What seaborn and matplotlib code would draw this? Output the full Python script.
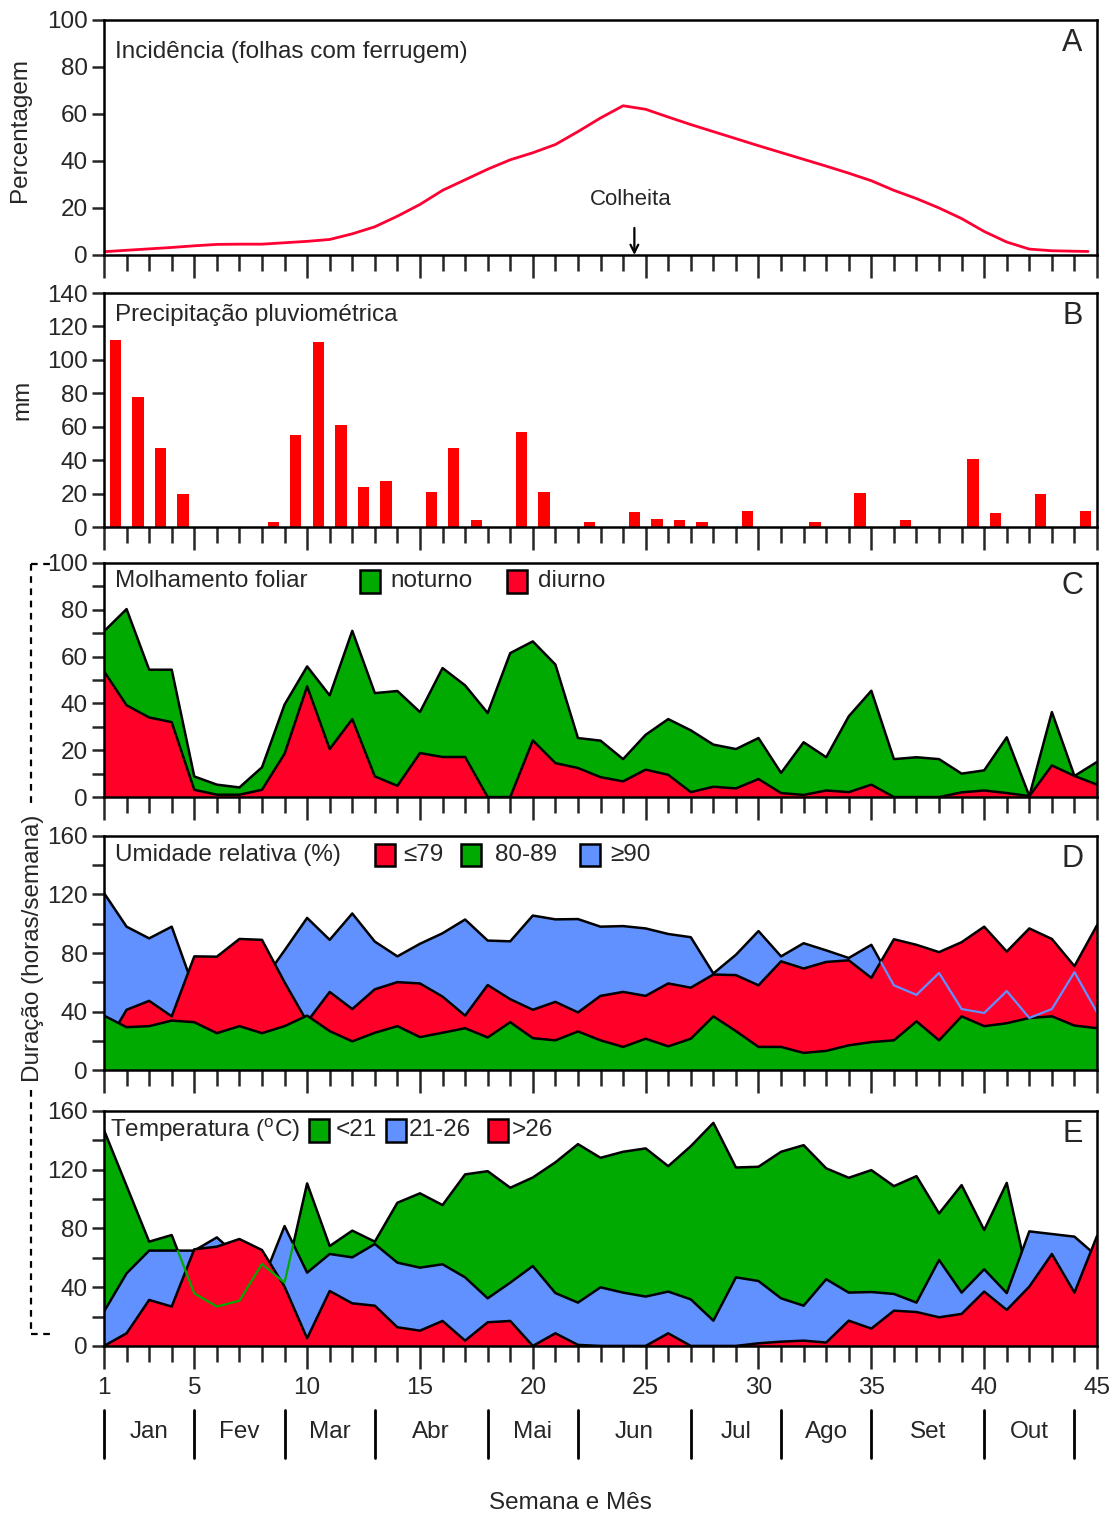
import matplotlib
matplotlib.use("Agg")
import matplotlib.pyplot as plt
import seaborn as sns
import numpy as np
from matplotlib.patches import Rectangle
from matplotlib.lines import Line2D
import matplotlib.transforms as mtransforms

# ---------------- data ----------------
weeks = list(range(1, 46))

inc_weeks = list(range(1, 45)) + [44.6]
incidence = [1.4, 2.0, 2.6, 3.2, 3.9, 4.5, 4.6, 4.6, 5.2, 5.8,
             6.6, 9.0, 12.0, 16.5, 21.5, 27.5, 32.0, 36.5, 40.5, 43.5,
             47.0, 52.5, 58.3, 63.5, 62.0, 58.7, 55.5, 52.5, 49.5, 46.5,
             43.6, 40.7, 37.8, 34.8, 31.6, 27.5, 24.0, 20.0, 15.5, 10.0,
             5.5, 2.5, 1.8, 1.6, 1.5]

bar_pos = [i + 0.5 for i in range(1, 45)]
precip = [112, 78, 47, 20, 0, 0, 0, 3, 55, 110.5,
          61, 24, 27.5, 0, 21, 47, 4.5, 0, 57, 21,
          0, 3, 0, 9, 5, 4, 3, 0, 9.5, 0,
          0, 3, 0, 20.5, 0, 4, 0, 0, 41, 8.5,
          0, 20, 0, 9.5]

wet_noturno = [70.8, 80.3, 54.4, 54.4, 8.8, 5.3, 4.1, 12.7, 39.5, 55.8,
               43.4, 71.0, 44.4, 45.3, 36.3, 55.1, 47.7, 35.9, 61.5, 66.5,
               56.6, 25.2, 24.1, 16.2, 26.6, 33.3, 28.5, 22.4, 20.5, 25.2,
               10.3, 23.4, 17.0, 34.5, 45.4, 16.2, 17.0, 16.2, 10.0, 11.4,
               25.5, 0.4, 36.3, 9.0, 15.0]
wet_diurno = [53.7, 39.2, 34.0, 32.0, 3.1, 1.0, 1.0, 3.1, 18.5, 47.3,
              20.5, 33.3, 8.8, 4.8, 18.8, 17.1, 17.1, 0.0, 0.0, 24.2,
              14.5, 12.4, 8.5, 6.7, 11.7, 9.5, 2.1, 4.4, 3.7, 7.7,
              1.7, 0.9, 2.8, 2.1, 5.3, 0.0, 0.0, 0.0, 2.0, 2.8,
              1.7, 0.4, 13.5, 9.0, 5.3]

rh_le79 = [15, 41.2, 47.3, 36.7, 77.7, 77.5, 89.6, 89, 60, 33,
           53.4, 41.7, 55.2, 60.1, 59.2, 50.2, 37.2, 58.1, 48.4, 41.2,
           46.6, 39.4, 50.7, 53.4, 50.7, 59.2, 56.3, 65.3, 64.9, 57.9,
           74.3, 69.4, 73.9, 75, 63, 89.4, 85.6, 80.6, 87.4, 98,
           81, 96.8, 89.6, 71, 99]
rh_80_89 = [37.2, 29.3, 30, 33.8, 32.7, 25.2, 30, 25.2, 30, 37.2,
            26.6, 19.6, 25.5, 30, 22.5, 25.5, 28.6, 22.3, 32.7, 21.8,
            20.3, 26.4, 20.3, 15.8, 21.4, 16.2, 21.4, 36.7, 26.6, 15.8,
            15.8, 11.7, 13.1, 16.9, 19.1, 20.3, 33.3, 20.3, 36.7, 30,
            32, 35.6, 36.7, 30.4, 28.6]
rh_ge90 = [121, 98, 90, 98, 55, 52, 55, 60, 81.8, 104,
           89, 107, 87.8, 77.7, 86.3, 93.5, 102.9, 88.5, 88, 105.6,
           103, 103.2, 98, 98.4, 96.8, 93, 90.8, 66, 78.8, 95,
           77.7, 86.7, 81.8, 76.6, 85.6, 57.9, 51.4, 66.4, 41.7, 39,
           54, 35.6, 41.7, 66.9, 39.4]

t_lt21 = [146.9, 109, 71, 75.5, 35.8, 26.8, 30.8, 55.8, 43.1, 110.7,
          68, 78.5, 71, 97.5, 103.9, 95.9, 116.8, 119, 107.7, 114.7,
          125, 137.4, 128.1, 132.2, 134.5, 122.4, 136, 151.9, 121.5, 122,
          132.2, 136.7, 120.9, 114.5, 119.7, 108.8, 115.6, 90.2, 109.5, 78.9,
          111, 42, 40, 36, 32]
t_21_26 = [23.4, 49.4, 64.9, 64.9, 64.9, 73.9, 60, 43, 81.6, 49.9,
           62.6, 60.3, 69.4, 56.7, 53.3, 55.6, 46.7, 32.4, 43.1, 54.4,
           36, 29.5, 39.9, 36.3, 33.6, 37, 31.7, 17.2, 46.7, 44.2,
           32.4, 27.4, 45.4, 36.3, 36.7, 35.4, 29.5, 58.5, 36.3, 52.2,
           36, 78, 76.2, 74.4, 61]
t_gt26 = [0, 8.6, 31.3, 26.8, 65.8, 67.6, 72.8, 65.3, 40.4, 5.2,
          37.4, 29, 27.4, 12.7, 10.4, 17, 3.6, 16.1, 17, 0,
          8.6, 0.7, 0, 0, 0, 8.6, 0, 0, 0, 1.8,
          2.9, 3.6, 2.3, 17.2, 11.8, 24, 23.1, 19.5, 21.8, 37,
          24.5, 40.4, 62.6, 36.3, 74.9]

month_names = ["Jan", "Fev", "Mar", "Abr", "Mai", "Jun", "Jul", "Ago", "Set", "Out"]
month_bounds = [1, 5, 9, 13, 18, 22, 27, 31, 35, 40, 44]
x_major = [1, 5, 10, 15, 20, 25, 30, 35, 40, 45]

# ---------------- style ----------------
sns.set_style("ticks")
REG = ["Liberation Sans", "DejaVu Sans"]
NAR = ["Liberation Sans Narrow", "Liberation Sans", "DejaVu Sans"]
plt.rcParams["font.family"] = REG
plt.rcParams["mathtext.fontset"] = "custom"
plt.rcParams["mathtext.rm"] = "Liberation Sans"
FS = 17.5

RED = "#FF0029"
GREEN = "#00AA00"
BLUE = "#6191FF"
BAR = "#FF0000"
LW = 1.8

fig = plt.figure(figsize=(11.16, 15.15), dpi=100)
L, W = 0.0932, 0.8898
axA = fig.add_axes([L, 0.8317, W, 0.1551])
axB = fig.add_axes([L, 0.6521, W, 0.1545])
axC = fig.add_axes([L, 0.4739, W, 0.1545])
axD = fig.add_axes([L, 0.2937, W, 0.1545])
axE = fig.add_axes([L, 0.1116, W, 0.1551])
axes = [axA, axB, axC, axD, axE]


def area(ax, y, color, z):
    ax.fill_between(weeks, 0, y, color=color, lw=0, zorder=z)
    sns.lineplot(x=weeks, y=y, color="black", lw=LW, zorder=z + 0.5, ax=ax)


def hidden_line(ax, y, covers, color, z, start, stop):
    """Thin line for part of a series, shown only where it lies under the other areas."""
    top = np.maximum.reduce([np.asarray(c, float) for c in covers])
    clip = ax.fill_between(weeks, -5, top, color="none", lw=0)
    n_before = len(ax.lines)
    sns.lineplot(x=weeks[start:stop], y=y[start:stop], color=color, lw=1.6,
                 zorder=z, ax=ax)
    path = clip.get_paths()[0]
    for ln in ax.lines[n_before:]:
        ln.set_clip_path(path, ax.transData)


# Panel A
sns.lineplot(x=inc_weeks, y=incidence, color="#FF0033", lw=2.0, ax=axA)
axA.annotate("", xy=(24.5, 0), xytext=(24.5, 11.5),
             arrowprops=dict(arrowstyle="->", lw=1.6, color="black",
                             shrinkA=0, shrinkB=0, mutation_scale=14))
axA.text(24.35, 23.5, "Colheita", ha="center", va="center", fontsize=16,
         family=NAR)

# Panel B
sns.barplot(x=bar_pos, y=precip, native_scale=True, width=0.5, color=BAR,
            saturation=1, errorbar=None, linewidth=0, ax=axB)

# Panel C
area(axC, wet_noturno, GREEN, 1)
area(axC, wet_diurno, RED, 3)

# Panel D
area(axD, rh_ge90, BLUE, 1)
area(axD, rh_le79, RED, 3)
area(axD, rh_80_89, GREEN, 5)
hidden_line(axD, rh_ge90, [rh_le79, rh_80_89], BLUE, 6.2, 34, 45)

# Panel E
area(axE, t_lt21, GREEN, 1)
area(axE, t_21_26, BLUE, 3)
area(axE, t_gt26, RED, 5)
hidden_line(axE, t_lt21, [t_21_26, t_gt26], GREEN, 6.2, 3, 10)

# axes formatting
ylims = [(0, 100), (0, 140), (0, 100), (0, 160), (0, 160)]
yticks = [list(range(0, 101, 20)), list(range(0, 141, 20)), list(range(0, 101, 20)),
          list(range(0, 161, 40)), list(range(0, 161, 40))]
yminor = [[], [], list(range(10, 100, 20)), list(range(20, 160, 40)), list(range(20, 160, 40))]
letters = ["A", "B", "C", "D", "E"]
for ax, yl, yt, ym, let in zip(axes, ylims, yticks, yminor, letters):
    ax.set_xlim(1, 45)
    ax.set_ylim(*yl)
    ax.set_xticks(x_major)
    ax.set_xticks(weeks, minor=True)
    ax.set_yticks(yt)
    ax.set_yticks(ym, minor=True)
    ax.set_xlabel("")
    ax.set_ylabel("")
    for s in ax.spines.values():
        s.set_visible(True)
        s.set_linewidth(LW)
        s.set_color("black")
        s.set_zorder(20)
    ax.tick_params(axis="x", which="major", length=16.5, width=LW, direction="out",
                   labelsize=FS, pad=6, labelfontfamily=NAR, labelbottom=(ax is axE))
    ax.tick_params(axis="x", which="minor", length=11.5, width=LW, direction="out")
    ax.tick_params(axis="y", which="both", length=8.5, width=LW, direction="out",
                   labelsize=FS, pad=3, labelfontfamily=NAR)
    ax.text(0.975, 0.90, let, transform=ax.transAxes, ha="center", va="center",
            fontsize=22)
    ax.set_facecolor("white")

# panel titles / legends
axA.text(0.011, 0.865, "Incidência (folhas com ferrugem)", transform=axA.transAxes,
         ha="left", va="center", fontsize=FS)
axB.text(0.011, 0.905, "Precipitação pluviométrica", transform=axB.transAxes,
         ha="left", va="center", fontsize=FS)


def legend_items(ax, title_x, ty, sq_y0, sq_h, items):
    ax.text(title_x[0], ty, title_x[1], transform=ax.transAxes, ha="left",
            va="center", fontsize=FS, zorder=30)
    for x0, col, lab, lx in items:
        ax.add_patch(Rectangle((x0, sq_y0), 0.0205, sq_h, transform=ax.transAxes,
                               facecolor=col, edgecolor="black", lw=LW,
                               clip_on=False, zorder=30))
        ax.text(lx, ty, lab, transform=ax.transAxes, ha="left", va="center",
                fontsize=FS, zorder=30)


legend_items(axC, (0.011, "Molhamento foliar"), 0.923, 0.872, 0.098,
             [(0.2578, GREEN, "noturno", 0.288), (0.4058, RED, "diurno", 0.437)])
legend_items(axD, (0.011, "Umidade relativa (%)"), 0.919, 0.872, 0.094,
             [(0.2729, RED, "≤79", 0.301), (0.3595, GREEN, "80-89", 0.394),
              (0.4794, BLUE, "≥90", 0.5096)])
legend_items(axE, (0.006, r"Temperatura ($^{\mathrm{o}}$C)"), 0.919, 0.868, 0.098,
             [(0.2064, GREEN, "<21", 0.2336), (0.284, BLUE, "21-26", 0.307),
              (0.3867, RED, ">26", 0.411)])

# month row under panel E
trans = mtransforms.blended_transform_factory(axE.transData, axE.transAxes)
for b in month_bounds:
    axE.add_line(Line2D([b, b], [-0.272, -0.477], transform=trans, color="black",
                        lw=2.0, clip_on=False))
for i, name in enumerate(month_names):
    mid = (month_bounds[i] + month_bounds[i + 1]) / 2
    axE.text(mid, -0.366, name, transform=trans, ha="center", va="center",
             fontsize=FS, family=NAR)

# figure-level labels
fig.text(0.511, 0.0079, "Semana e Mês", ha="center", va="center", fontsize=FS)
fig.text(0.018, 0.914, "Percentagem", rotation=90, ha="center", va="center", fontsize=FS)
fig.text(0.020, 0.736, "mm", rotation=90, ha="center", va="center", fontsize=FS)
fig.text(0.0296, 0.3743, "Duração (horas/semana)", rotation=90, ha="center",
         va="center", fontsize=FS)

# dashed bracket for shared label
def fpx(x, y):
    return x / 1116, 1 - y / 1515

dash = dict(color="black", lw=1.6, ls=(0, (3, 2.5)), transform=fig.transFigure)
for (x1, y1), (x2, y2) in [((31, 564), (55, 564)), ((31, 564), (31, 806)),
                           ((31, 1090), (31, 1334)), ((31, 1334), (55, 1334))]:
    a, b = fpx(x1, y1)
    c, d = fpx(x2, y2)
    fig.add_artist(Line2D([a, c], [b, d], **dash))

fig.savefig("out.png", dpi=100)
